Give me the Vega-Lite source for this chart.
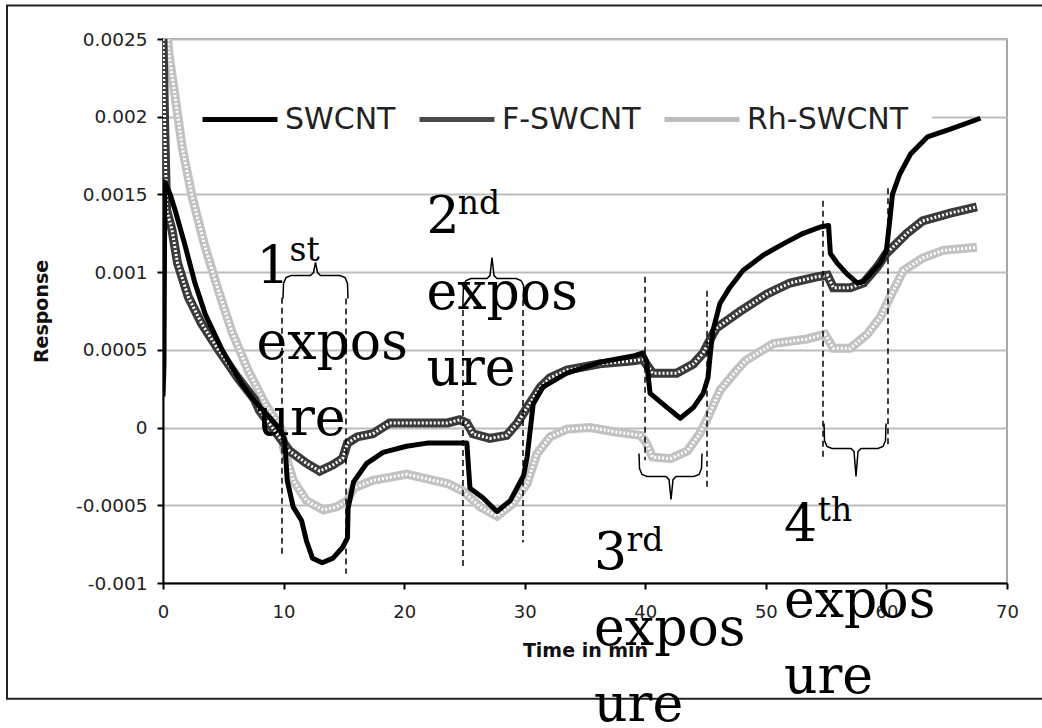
{
  "$schema": "https://vega.github.io/schema/vega-lite/v6.json",
  "width": 844,
  "height": 544,
  "autosize": {"type": "none"},
  "padding": {"left": 163, "top": 39, "right": 35, "bottom": 145},
  "background": "white",
  "config": {
    "view": {"stroke": "#a6a6a6", "strokeWidth": 2},
    "font": "DejaVu Sans"
  },
  "datasets": {
    "curves": [
      {"s":"SWCNT","t":0,"r":0.0002},{"s":"SWCNT","t":0.08,"r":0.0004},{"s":"SWCNT","t":0.15,"r":0.00158},{"s":"SWCNT","t":0.6,"r":0.0015},{"s":"SWCNT","t":1.0,"r":0.0014},{"s":"SWCNT","t":1.8,"r":0.00118},{"s":"SWCNT","t":2.65,"r":0.00093},{"s":"SWCNT","t":3.5,"r":0.00073},{"s":"SWCNT","t":4.9,"r":0.0005},{"s":"SWCNT","t":6.55,"r":0.00028},{"s":"SWCNT","t":7.6,"r":0.00017},{"s":"SWCNT","t":8.8,"r":0.00007},{"s":"SWCNT","t":9.8,"r":-0.00002},{"s":"SWCNT","t":10.1,"r":-0.00008},{"s":"SWCNT","t":10.3,"r":-0.00034},{"s":"SWCNT","t":10.8,"r":-0.00051},{"s":"SWCNT","t":11.5,"r":-0.0006},{"s":"SWCNT","t":11.9,"r":-0.00073},{"s":"SWCNT","t":12.4,"r":-0.00084},{"s":"SWCNT","t":13.2,"r":-0.00087},{"s":"SWCNT","t":14.1,"r":-0.00084},{"s":"SWCNT","t":14.9,"r":-0.00077},{"s":"SWCNT","t":15.3,"r":-0.00071},{"s":"SWCNT","t":15.35,"r":-0.00052},{"s":"SWCNT","t":15.8,"r":-0.00035},{"s":"SWCNT","t":16.9,"r":-0.00023},{"s":"SWCNT","t":18.25,"r":-0.00016},{"s":"SWCNT","t":20.2,"r":-0.00012},{"s":"SWCNT","t":21.9,"r":-0.0001},{"s":"SWCNT","t":24.6,"r":-0.0001},{"s":"SWCNT","t":25.2,"r":-0.0001},{"s":"SWCNT","t":25.46,"r":-0.00039},{"s":"SWCNT","t":26.5,"r":-0.00045},{"s":"SWCNT","t":27.7,"r":-0.00054},{"s":"SWCNT","t":28.8,"r":-0.00047},{"s":"SWCNT","t":29.9,"r":-0.00031},{"s":"SWCNT","t":30.2,"r":-0.00019},{"s":"SWCNT","t":30.7,"r":0.00015},{"s":"SWCNT","t":31.5,"r":0.00026},{"s":"SWCNT","t":33.5,"r":0.00035},{"s":"SWCNT","t":36.2,"r":0.00042},{"s":"SWCNT","t":39.0,"r":0.00046},{"s":"SWCNT","t":39.8,"r":0.00048},{"s":"SWCNT","t":40.1,"r":0.00043},{"s":"SWCNT","t":40.4,"r":0.00022},{"s":"SWCNT","t":41.8,"r":0.00013},{"s":"SWCNT","t":42.9,"r":0.00006},{"s":"SWCNT","t":44.0,"r":0.00013},{"s":"SWCNT","t":44.8,"r":0.00022},{"s":"SWCNT","t":45.2,"r":0.00032},{"s":"SWCNT","t":45.4,"r":0.00048},{"s":"SWCNT","t":45.6,"r":0.00062},{"s":"SWCNT","t":46.2,"r":0.0008},{"s":"SWCNT","t":47.0,"r":0.0009},{"s":"SWCNT","t":48.1,"r":0.00101},{"s":"SWCNT","t":49.8,"r":0.00111},{"s":"SWCNT","t":51.4,"r":0.00118},{"s":"SWCNT","t":53.1,"r":0.00125},{"s":"SWCNT","t":54.5,"r":0.00129},{"s":"SWCNT","t":55.2,"r":0.0013},{"s":"SWCNT","t":55.35,"r":0.00112},{"s":"SWCNT","t":55.9,"r":0.00106},{"s":"SWCNT","t":56.7,"r":0.00099},{"s":"SWCNT","t":57.6,"r":0.00093},{"s":"SWCNT","t":58.1,"r":0.00094},{"s":"SWCNT","t":59.5,"r":0.00106},{"s":"SWCNT","t":60.0,"r":0.00114},{"s":"SWCNT","t":60.3,"r":0.00135},{"s":"SWCNT","t":60.5,"r":0.0015},{"s":"SWCNT","t":61.1,"r":0.00163},{"s":"SWCNT","t":62.0,"r":0.00176},{"s":"SWCNT","t":63.4,"r":0.00187},{"s":"SWCNT","t":65.3,"r":0.00192},{"s":"SWCNT","t":67.8,"r":0.00199},
      {"s":"F-SWCNT","t":0,"r":0.0025},{"s":"F-SWCNT","t":0.15,"r":0.0019},{"s":"F-SWCNT","t":0.3,"r":0.0014},{"s":"F-SWCNT","t":0.75,"r":0.00127},{"s":"F-SWCNT","t":1.2,"r":0.00106},{"s":"F-SWCNT","t":2.1,"r":0.00084},{"s":"F-SWCNT","t":3.2,"r":0.00067},{"s":"F-SWCNT","t":4.6,"r":0.0005},{"s":"F-SWCNT","t":6.2,"r":0.00032},{"s":"F-SWCNT","t":7.6,"r":0.00018},{"s":"F-SWCNT","t":8.0,"r":0.00011},{"s":"F-SWCNT","t":9.45,"r":-0.00004},{"s":"F-SWCNT","t":10.5,"r":-0.00015},{"s":"F-SWCNT","t":11.9,"r":-0.00023},{"s":"F-SWCNT","t":13.0,"r":-0.00028},{"s":"F-SWCNT","t":14.1,"r":-0.00024},{"s":"F-SWCNT","t":14.9,"r":-0.0002},{"s":"F-SWCNT","t":15.3,"r":-0.0001},{"s":"F-SWCNT","t":16.1,"r":-0.00006},{"s":"F-SWCNT","t":17.4,"r":-0.00004},{"s":"F-SWCNT","t":18.8,"r":0.00003},{"s":"F-SWCNT","t":20.2,"r":0.00003},{"s":"F-SWCNT","t":21.9,"r":0.00003},{"s":"F-SWCNT","t":23.6,"r":0.00003},{"s":"F-SWCNT","t":24.6,"r":0.00005},{"s":"F-SWCNT","t":25.2,"r":0.00003},{"s":"F-SWCNT","t":25.7,"r":-0.00004},{"s":"F-SWCNT","t":27.1,"r":-0.00007},{"s":"F-SWCNT","t":28.5,"r":-0.00005},{"s":"F-SWCNT","t":29.4,"r":0.00003},{"s":"F-SWCNT","t":30.2,"r":0.00013},{"s":"F-SWCNT","t":31.3,"r":0.00026},{"s":"F-SWCNT","t":32.1,"r":0.00032},{"s":"F-SWCNT","t":33.5,"r":0.00037},{"s":"F-SWCNT","t":36.2,"r":0.00041},{"s":"F-SWCNT","t":39.0,"r":0.00043},{"s":"F-SWCNT","t":39.8,"r":0.00044},{"s":"F-SWCNT","t":40.6,"r":0.00035},{"s":"F-SWCNT","t":42.6,"r":0.00035},{"s":"F-SWCNT","t":44.0,"r":0.00041},{"s":"F-SWCNT","t":44.8,"r":0.00048},{"s":"F-SWCNT","t":45.6,"r":0.0006},{"s":"F-SWCNT","t":45.9,"r":0.00064},{"s":"F-SWCNT","t":47.9,"r":0.00075},{"s":"F-SWCNT","t":50.1,"r":0.00086},{"s":"F-SWCNT","t":52.0,"r":0.00093},{"s":"F-SWCNT","t":54.2,"r":0.00097},{"s":"F-SWCNT","t":55.1,"r":0.00098},{"s":"F-SWCNT","t":55.6,"r":0.0009},{"s":"F-SWCNT","t":57.0,"r":0.0009},{"s":"F-SWCNT","t":58.1,"r":0.00093},{"s":"F-SWCNT","t":59.2,"r":0.00103},{"s":"F-SWCNT","t":60.0,"r":0.00112},{"s":"F-SWCNT","t":61.7,"r":0.00125},{"s":"F-SWCNT","t":63.0,"r":0.00133},{"s":"F-SWCNT","t":65.3,"r":0.00138},{"s":"F-SWCNT","t":67.5,"r":0.00142},
      {"s":"Rh-SWCNT","t":0.3,"r":0.0026},{"s":"Rh-SWCNT","t":0.5,"r":0.0024},{"s":"Rh-SWCNT","t":1.0,"r":0.00213},{"s":"Rh-SWCNT","t":1.6,"r":0.0018},{"s":"Rh-SWCNT","t":2.4,"r":0.00149},{"s":"Rh-SWCNT","t":3.5,"r":0.00116},{"s":"Rh-SWCNT","t":4.6,"r":0.00088},{"s":"Rh-SWCNT","t":5.7,"r":0.00062},{"s":"Rh-SWCNT","t":7.05,"r":0.00037},{"s":"Rh-SWCNT","t":8.5,"r":0.00015},{"s":"Rh-SWCNT","t":9.9,"r":-0.00002},{"s":"Rh-SWCNT","t":10.0,"r":-0.00013},{"s":"Rh-SWCNT","t":10.8,"r":-0.00034},{"s":"Rh-SWCNT","t":11.9,"r":-0.00047},{"s":"Rh-SWCNT","t":13.3,"r":-0.00053},{"s":"Rh-SWCNT","t":14.4,"r":-0.00051},{"s":"Rh-SWCNT","t":15.3,"r":-0.00047},{"s":"Rh-SWCNT","t":15.8,"r":-0.00039},{"s":"Rh-SWCNT","t":17.4,"r":-0.00034},{"s":"Rh-SWCNT","t":18.8,"r":-0.00032},{"s":"Rh-SWCNT","t":20.2,"r":-0.0003},{"s":"Rh-SWCNT","t":21.9,"r":-0.00033},{"s":"Rh-SWCNT","t":23.6,"r":-0.00036},{"s":"Rh-SWCNT","t":24.9,"r":-0.00041},{"s":"Rh-SWCNT","t":26.3,"r":-0.00051},{"s":"Rh-SWCNT","t":27.7,"r":-0.00057},{"s":"Rh-SWCNT","t":29.0,"r":-0.00049},{"s":"Rh-SWCNT","t":30.2,"r":-0.00036},{"s":"Rh-SWCNT","t":31.0,"r":-0.00017},{"s":"Rh-SWCNT","t":32.1,"r":-0.00006},{"s":"Rh-SWCNT","t":33.5,"r":-0.00001},{"s":"Rh-SWCNT","t":35.4,"r":0.0},{"s":"Rh-SWCNT","t":37.7,"r":-0.00003},{"s":"Rh-SWCNT","t":39.6,"r":-0.00005},{"s":"Rh-SWCNT","t":40.1,"r":-0.0001},{"s":"Rh-SWCNT","t":40.6,"r":-0.00019},{"s":"Rh-SWCNT","t":42.1,"r":-0.0002},{"s":"Rh-SWCNT","t":43.5,"r":-0.00015},{"s":"Rh-SWCNT","t":44.5,"r":-0.00004},{"s":"Rh-SWCNT","t":45.1,"r":0.00005},{"s":"Rh-SWCNT","t":46.2,"r":0.00024},{"s":"Rh-SWCNT","t":47.6,"r":0.00037},{"s":"Rh-SWCNT","t":48.3,"r":0.00043},{"s":"Rh-SWCNT","t":50.6,"r":0.00054},{"s":"Rh-SWCNT","t":53.4,"r":0.00057},{"s":"Rh-SWCNT","t":54.9,"r":0.0006},{"s":"Rh-SWCNT","t":55.6,"r":0.00051},{"s":"Rh-SWCNT","t":57.0,"r":0.00051},{"s":"Rh-SWCNT","t":58.4,"r":0.0006},{"s":"Rh-SWCNT","t":59.5,"r":0.00071},{"s":"Rh-SWCNT","t":60.3,"r":0.00084},{"s":"Rh-SWCNT","t":61.4,"r":0.00101},{"s":"Rh-SWCNT","t":63.0,"r":0.00109},{"s":"Rh-SWCNT","t":64.7,"r":0.00114},{"s":"Rh-SWCNT","t":67.5,"r":0.00116}
    ],
    "marks": [
      {"t":9.87,"r":0.000836,"r2":-0.000824},
      {"t":15.18,"r":0.00083,"r2":-0.00094},
      {"t":24.88,"r":0.00082,"r2":-0.00089},
      {"t":29.86,"r":0.00082,"r2":-0.00074},
      {"t":39.98,"r":0.00097,"r2":-0.00021},
      {"t":45.12,"r":0.00088,"r2":-0.00039},
      {"t":54.74,"r":0.00146,"r2":-0.00021},
      {"t":60.13,"r":0.00154,"r2":-0.00013}
    ],
    "braces": [
      {"b":1,"o":1,"t":9.953,"r":0.00083},{"b":1,"o":2,"t":9.994,"r":0.000927},{"b":1,"o":3,"t":10.202,"r":0.000965},{"b":1,"o":4,"t":10.616,"r":0.000978},{"b":1,"o":5,"t":12.234,"r":0.000978},{"b":1,"o":6,"t":12.482,"r":0.000997},{"b":1,"o":7,"t":12.648,"r":0.001062},{"b":1,"o":8,"t":12.814,"r":0.000997},{"b":1,"o":9,"t":13.063,"r":0.000978},{"b":1,"o":10,"t":14.68,"r":0.000978},{"b":1,"o":11,"t":15.095,"r":0.000965},{"b":1,"o":12,"t":15.302,"r":0.000927},{"b":1,"o":13,"t":15.344,"r":0.00083},
      {"b":2,"o":1,"t":24.882,"r":0.000817},{"b":2,"o":2,"t":24.924,"r":0.000914},{"b":2,"o":3,"t":25.131,"r":0.000946},{"b":2,"o":4,"t":25.546,"r":0.000959},{"b":2,"o":5,"t":26.873,"r":0.000959},{"b":2,"o":6,"t":27.121,"r":0.000978},{"b":2,"o":7,"t":27.287,"r":0.001094},{"b":2,"o":8,"t":27.453,"r":0.000978},{"b":2,"o":9,"t":27.702,"r":0.000959},{"b":2,"o":10,"t":29.278,"r":0.000959},{"b":2,"o":11,"t":29.693,"r":0.000946},{"b":2,"o":12,"t":29.9,"r":0.000914},{"b":2,"o":13,"t":29.941,"r":0.000817},
      {"b":3,"o":1,"t":39.48,"r":-0.000167},{"b":3,"o":2,"t":39.521,"r":-0.000264},{"b":3,"o":3,"t":39.728,"r":-0.000302},{"b":3,"o":4,"t":40.143,"r":-0.000315},{"b":3,"o":5,"t":41.719,"r":-0.000315},{"b":3,"o":6,"t":41.968,"r":-0.000335},{"b":3,"o":7,"t":42.134,"r":-0.000463},{"b":3,"o":8,"t":42.299,"r":-0.000335},{"b":3,"o":9,"t":42.548,"r":-0.000315},{"b":3,"o":10,"t":44.041,"r":-0.000315},{"b":3,"o":11,"t":44.456,"r":-0.000302},{"b":3,"o":12,"t":44.663,"r":-0.000264},{"b":3,"o":13,"t":44.705,"r":-0.000167},
      {"b":4,"o":1,"t":54.823,"r":0.000026},{"b":4,"o":2,"t":54.865,"r":-0.000084},{"b":4,"o":3,"t":55.072,"r":-0.000122},{"b":4,"o":4,"t":55.487,"r":-0.000135},{"b":4,"o":5,"t":57.063,"r":-0.000135},{"b":4,"o":6,"t":57.312,"r":-0.000154},{"b":4,"o":7,"t":57.477,"r":-0.000315},{"b":4,"o":8,"t":57.643,"r":-0.000154},{"b":4,"o":9,"t":57.892,"r":-0.000135},{"b":4,"o":10,"t":59.302,"r":-0.000135},{"b":4,"o":11,"t":59.717,"r":-0.000122},{"b":4,"o":12,"t":59.924,"r":-0.000084},{"b":4,"o":13,"t":59.966,"r":0.000026}
    ],
    "notes": [
      {"k":"main","t":7.75,"r":0.000933,"txt":"1\nexpos\nure"},
      {"k":"main","t":21.85,"r":0.00125,"txt":"2\nexpos\nure"},
      {"k":"main","t":35.75,"r":-0.000907,"txt":"3\nexpos\nure"},
      {"k":"main","t":51.5,"r":-0.000727,"txt":"4\nexpos\nure"},
      {"k":"sup","t":10.5,"r":0.00107,"txt":"st"},
      {"k":"sup","t":24.45,"r":0.001377,"txt":"nd"},
      {"k":"sup","t":38.45,"r":-0.000791,"txt":"rd"},
      {"k":"sup","t":54.3,"r":-0.000598,"txt":"th"}
    ],
    "frame": [{"t":-12.94,"t2":80,"r":0.002715,"r2":-0.001744}],
    "legendbg": [{"t":1.244,"t2":63.78,"r":0.002104,"r2":0.001879}]
  },
  "encoding": {
    "x": {
      "field": "t", "type": "quantitative",
      "scale": {"domain": [0, 70], "nice": false, "zero": false},
      "axis": {
        "title": "Time in min", "values": [0,10,20,30,40,50,60,70], "grid": false,
        "domainColor": "#000", "domainWidth": 2, "tickColor": "#000", "tickWidth": 2, "tickSize": 6,
        "labelFont": "DejaVu Sans", "labelFontSize": 18, "labelColor": "#222", "labelPadding": 14, "labelFlush": false,
        "titleFont": "DejaVu Sans", "titleFontSize": 19, "titleFontWeight": "bold", "titleColor": "#111", "titlePadding": 20
      }
    },
    "y": {
      "field": "r", "type": "quantitative",
      "scale": {"domain": [-0.001, 0.0025], "nice": false, "zero": false},
      "axis": {
        "title": "Response", "values": [-0.001,-0.0005,0,0.0005,0.001,0.0015,0.002,0.0025],
        "labelExpr": "'' + datum.value",
        "grid": true, "gridColor": "#bdbdbd", "gridWidth": 2,
        "domainColor": "#000", "domainWidth": 2, "tickColor": "#000", "tickWidth": 2, "tickSize": 6,
        "labelFont": "DejaVu Sans", "labelFontSize": 18.5, "labelColor": "#222", "labelPadding": 10, "labelFlush": false,
        "titleFont": "DejaVu Sans", "titleFontSize": 19, "titleFontWeight": "bold", "titleColor": "#111", "titlePadding": 24
      }
    }
  },
  "layer": [
    {
      "data": {"name": "frame"},
      "mark": {"type": "rect", "fill": "white", "fillOpacity": 0, "stroke": "#222", "strokeWidth": 2, "clip": false},
      "encoding": {"x2": {"field": "t2"}, "y2": {"field": "r2"}}
    },
    {
      "data": {"name": "legendbg"},
      "mark": {"type": "rect", "fill": "white", "stroke": null},
      "encoding": {"x2": {"field": "t2"}, "y2": {"field": "r2"}}
    },
    {
      "data": {"name": "curves"},
      "transform": [{"filter": "datum.s === 'Rh-SWCNT'"}],
      "mark": {"type": "line", "stroke": "#c2c2c2", "strokeWidth": 9, "clip": true},
      "encoding": {}
    },
    {
      "data": {"name": "curves"},
      "transform": [{"filter": "datum.s === 'Rh-SWCNT'"}],
      "mark": {"type": "line", "stroke": "#ffffff", "strokeWidth": 3, "strokeDash": [2, 2], "clip": true},
      "encoding": {}
    },
    {
      "data": {"name": "curves"},
      "transform": [{"filter": "datum.s === 'F-SWCNT'"}],
      "mark": {"type": "line", "stroke": "#3a3a3a", "strokeWidth": 9, "clip": true},
      "encoding": {}
    },
    {
      "data": {"name": "curves"},
      "transform": [{"filter": "datum.s === 'F-SWCNT'"}],
      "mark": {"type": "line", "stroke": "#ffffff", "strokeWidth": 3, "strokeDash": [2, 2], "clip": true},
      "encoding": {}
    },
    {
      "data": {"name": "curves"},
      "transform": [{"filter": "datum.s === 'SWCNT'"}],
      "mark": {"type": "line", "strokeWidth": 5, "strokeJoin": "round", "clip": true},
      "encoding": {
        "color": {
          "field": "s", "type": "nominal",
          "scale": {"domain": ["SWCNT", "F-SWCNT", "Rh-SWCNT"], "range": ["#000000", "#4a4a4a", "#bdbdbd"]},
          "legend": {
            "orient": "none", "legendX": 37, "legendY": 40.5, "direction": "horizontal", "title": null,
            "symbolType": "stroke", "symbolSize": 5625, "symbolStrokeWidth": 5,
            "labelFont": "DejaVu Sans", "labelFontSize": 30, "labelColor": "#222", "labelOffset": 5, "labelLimit": 400,
            "columnPadding": 13, "padding": 0
          }
        }
      }
    },
    {
      "data": {"name": "marks"},
      "mark": {"type": "rule", "stroke": "#000", "strokeWidth": 1.5, "strokeDash": [6, 4]},
      "encoding": {"y2": {"field": "r2"}}
    },
    {
      "data": {"name": "braces"},
      "mark": {"type": "line", "stroke": "#000", "strokeWidth": 1.5},
      "encoding": {"detail": {"field": "b"}, "order": {"field": "o"}}
    },
    {
      "data": {"name": "notes"},
      "transform": [{"filter": "datum.k === 'main'"}],
      "mark": {"type": "text", "font": "DejaVu Serif", "fontSize": 52, "align": "left", "baseline": "alphabetic", "lineBreak": "\n", "lineHeight": 76, "color": "#000"},
      "encoding": {"text": {"field": "txt"}}
    },
    {
      "data": {"name": "notes"},
      "transform": [{"filter": "datum.k === 'sup'"}],
      "mark": {"type": "text", "font": "DejaVu Serif", "fontSize": 33, "align": "left", "baseline": "alphabetic", "color": "#000"},
      "encoding": {"text": {"field": "txt"}}
    }
  ]
}
